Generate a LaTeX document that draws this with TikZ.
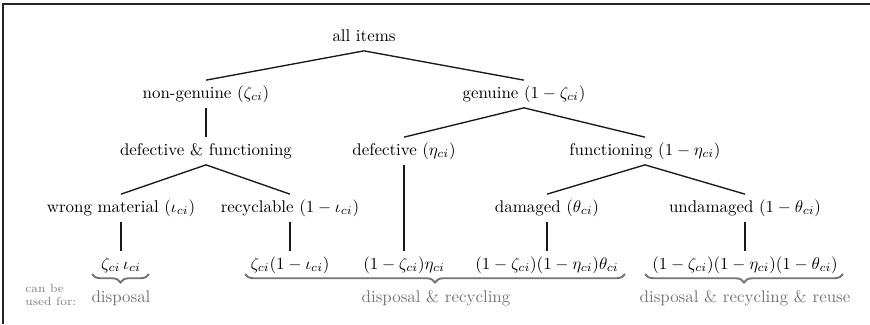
\documentclass[tikz,border=0pt]{standalone}
\usetikzlibrary{decorations.pathreplacing}
\begin{document}
\begin{tikzpicture}[x=0.5917pt,y=-0.5917pt,
  tn/.style={inner sep=3pt, text height=7.5pt, text depth=2.5pt},
  edge/.style={line width=0.8pt, black!90},
  brc/.style={decorate, decoration={brace, mirror, amplitude=5pt}, line width=1.1pt, black!55},
  usage/.style={text=black!55, anchor=base, inner sep=0pt}]
\useasboundingbox (0,0) rectangle (870,324);
\draw[black!85, line width=0.7pt] (3,324) -- (3,4) -- (870,4);
% nodes
\node[tn] (root) at (364,37) {all items};
\node[tn] (ng) at (206,94) {non-genuine ($\zeta_{ci}$)};
\node[tn] (gen) at (524,94) {genuine ($1-\zeta_{ci}$)};
\node[tn] (df) at (206,151) {defective \& functioning};
\node[tn] (def) at (404,151) {defective ($\eta_{ci}$)};
\node[tn] (fun) at (645,151) {functioning ($1-\eta_{ci}$)};
\node[tn] (wm) at (121,208) {wrong material ($\iota_{ci}$)};
\node[tn] (rec) at (290,208) {recyclable ($1-\iota_{ci}$)};
\node[tn] (dam) at (547,208) {damaged ($\theta_{ci}$)};
\node[tn] (und) at (745,208) {undamaged ($1-\theta_{ci}$)};
\node[tn] (l1) at (121,265) {$\zeta_{ci}\,\iota_{ci}$};
\node[tn] (l2) at (290,265) {$\zeta_{ci}(1-\iota_{ci})$};
\node[tn] (l3) at (404,265) {$(1-\zeta_{ci})\eta_{ci}$};
\node[tn] (l4) at (547,265) {$(1-\zeta_{ci})(1-\eta_{ci})\theta_{ci}$};
\node[tn] (l5) at (745,265) {$(1-\zeta_{ci})(1-\eta_{ci})(1-\theta_{ci})$};
% edges
\draw[edge] (ng.north) -- (root.south) -- (gen.north);
\draw[edge] (ng.south) -- (df.north);
\draw[edge] (wm.north) -- (df.south) -- (rec.north);
\draw[edge] (def.north) -- (gen.south) -- (fun.north);
\draw[edge] (dam.north) -- (fun.south) -- (und.north);
\draw[edge] (wm.south) -- (l1.north);
\draw[edge] (rec.south) -- (l2.north);
\draw[edge] (def.south) -- (l3.north);
\draw[edge] (dam.south) -- (l4.north);
\draw[edge] (und.south) -- (l5.north);
% braces
\coordinate (b1s) at (92,274); \coordinate (b1e) at (149,274);
\coordinate (b2s) at (245,274); \coordinate (b2e) at (625,274);
\coordinate (b3s) at (645,274); \coordinate (b3e) at (843,274);
\draw[brc] (b1s) -- (b1e);
\draw[brc] (b2s) -- (b2e);
\draw[brc] (b3s) -- (b3e);
% usage labels
\node[usage] (u1) at (121,302) {disposal};
\node[usage] (u2) at (436,302) {disposal \& recycling};
\node[usage] (u3) at (745,302) {disposal \& recycling \& reuse};
\node[text=black!50, anchor=west, align=left, inner sep=0pt, font=\scriptsize] (cb) at (25,295) {can be\\used for:};
\end{tikzpicture}
\end{document}
